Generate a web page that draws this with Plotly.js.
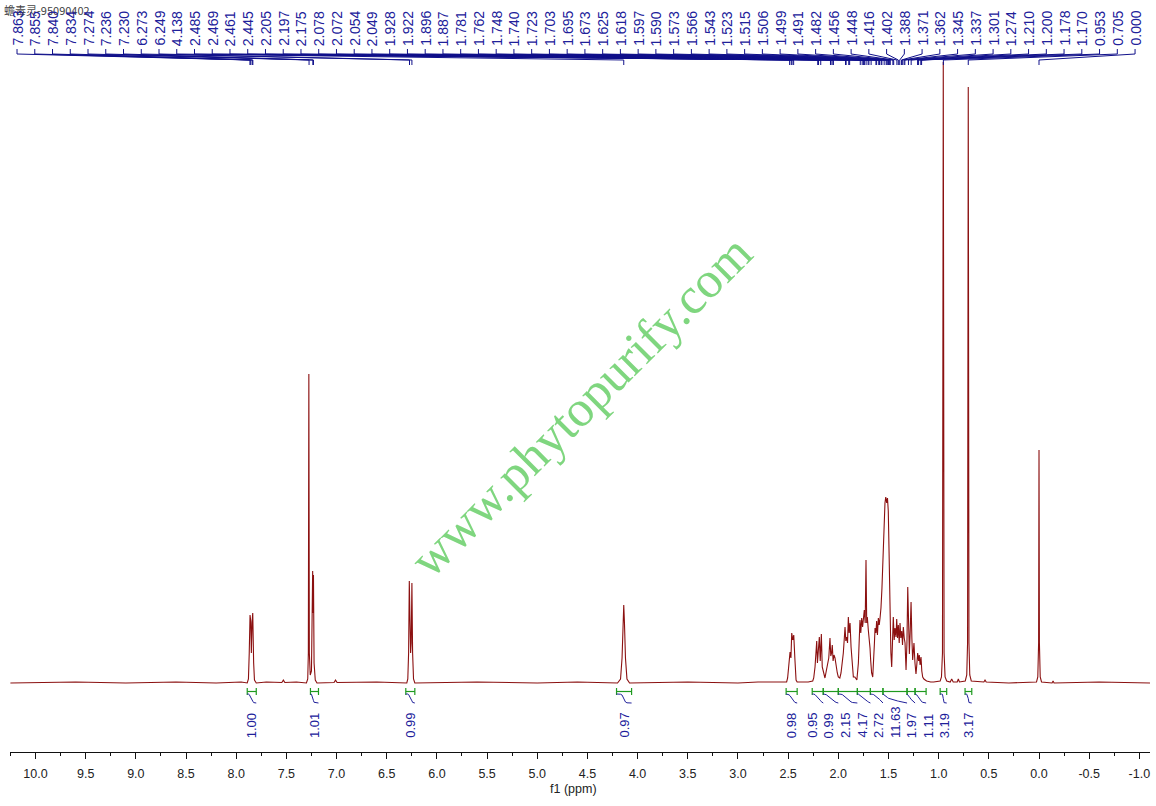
<!DOCTYPE html>
<html>
<head>
<meta charset="utf-8">
<script src="https://cdn.plot.ly/plotly-3.0.1.min.js"></script>
<style>html,body{margin:0;padding:0;background:#fff;}#chart{width:1156px;height:806px;}</style>
</head>
<body>
<div id="chart"></div>
<script>
// ---- data ----
const sampleTitle = '蟾毒灵-95090402';
const watermark = 'www.phytopurify.com';

// spectrum outline: chemical shift (ppm) and intensity (a.u.)
const specPpm = [10.25,9.60,9.10,8.60,8.20,7.95,
 7.890,7.878,7.870,7.862,7.855,7.849,7.842,7.835,7.826,7.818,7.800,
 7.70,7.545,7.530,7.515,7.40,
 7.300,7.287,7.281,7.276,7.271,7.262,7.250,7.243,7.238,7.234,7.230,7.224,7.212,7.195,
 7.025,7.010,6.995,6.60,
 6.300,6.290,6.282,6.275,6.268,6.262,6.256,6.249,6.242,6.233,6.220,
 5.60,5.00,4.60,
 4.200,4.170,4.155,4.145,4.138,4.131,4.121,4.106,4.080,
 3.50,3.00,2.80,
 2.515,2.505,2.491,2.481,2.472,2.464,2.454,2.444,2.432,2.421,2.410,2.300,
 2.255,2.245,2.232,2.222,2.215,2.208,2.200,2.189,2.180,2.169,2.160,2.149,2.140,
 2.133,2.120,2.105,2.095,2.083,2.075,2.067,2.060,2.052,2.043,2.033,2.022,2.010,2.000,1.990,
 1.985,1.973,1.960,1.950,1.940,1.933,1.925,1.916,1.908,1.900,1.892,1.883,1.873,1.860,1.850,1.835,1.822,1.815,
 1.800,1.790,1.784,1.776,1.767,1.758,1.748,1.741,1.732,1.724,1.717,1.711,1.701,1.692,1.684,1.677,1.668,
 1.657,1.648,1.640,1.634,1.625,1.618,1.610,1.601,1.592,
 1.584,1.575,1.565,1.555,1.545,1.535,1.527,1.518,1.510,1.502,1.494,1.485,1.476,1.468,
 1.460,1.452,1.443,1.435,1.425,1.418,1.410,1.402,1.393,1.385,1.377,1.368,1.360,1.352,1.343,1.335,1.325,
 1.316,1.308,1.300,1.292,1.284,1.275,1.267,1.259,1.252,1.246,1.236,
 1.226,1.218,1.209,1.200,1.193,1.185,1.176,1.168,1.159,1.147,1.136,1.120,1.080,
 1.050,0.985,0.972,0.962,0.954,0.946,0.936,0.920,0.885,0.870,0.855,0.815,0.804,0.793,0.760,
 0.735,0.720,0.712,0.705,0.698,0.690,0.675,0.550,0.538,0.526,0.300,
 0.025,0.012,0.004,0.000,-0.004,-0.012,-0.025,-0.130,-0.140,-0.150,-0.600,-1.106];
const specInt = [0,1,0,1,0,1,
 0,4,30,68,62,30,60,70,20,3,0,
 1,0.5,3,0.5,1,
 0,4,30,309,30,8,12,60,112,70,108,20,3,0,
 0.5,3,0.5,1,
 0,4,30,102,40,30,40,100,30,4,0,
 1,0,1,
 0,4,25,60,78,60,25,4,0,
 1,0,1,
 1,5,23,31,25,50,43,48,23,3,1,1,
 2,5,16,30,42,20,30,46,22,49,16,10,6,
 5,12,18,25,45,27,30,38,22,28,25,16,10,6,5,
 5,10,20,30,45,56,42,46,40,66,50,60,36,13,6,6,4,3,
 20,50,63,50,65,56,70,73,60,123,60,66,53,46,35,22,10,
 6,20,40,55,50,62,48,65,58,
 65,75,95,120,160,180,186,180,185,172,130,70,30,16,
 40,66,43,55,46,64,45,58,40,60,45,52,38,56,45,40,13,
 40,96,55,29,50,81,45,23,32,40,20,
 9,18,30,22,28,18,26,12,6,4,3,2,1,
 1,2,6,30,621,30,6,2,1,4,1,1,4,1,2,
 2,8,40,596,40,8,2,1,3,1,0,
 1,6,40,233,40,6,1,0,2,0,1,0];

// picked peak labels (ppm)
const peakLabels = [7.863,7.855,7.840,7.834,7.274,7.236,7.230,6.273,6.249,4.138,
 2.485,2.469,2.461,2.445,2.205,2.197,2.175,2.078,2.072,2.054,2.049,
 1.928,1.922,1.896,1.887,1.781,1.762,1.748,1.740,1.723,1.703,1.695,1.673,
 1.625,1.618,1.597,1.590,1.573,1.566,1.543,1.523,1.515,1.506,1.499,1.491,1.482,
 1.456,1.448,1.416,1.402,1.388,1.371,1.362,1.345,1.337,1.301,1.274,
 1.210,1.200,1.178,1.170,0.953,0.705,0.000];

// integration regions (ppm from, ppm to) and values
const intFrom = [7.89,7.26,6.31,4.21,2.52,2.26,2.15,2.00,1.81,1.68,1.555,1.315,1.235,0.985,0.737];
const intTo   = [7.80,7.18,6.22,4.06,2.41,2.15,2.00,1.81,1.68,1.555,1.315,1.235,1.125,0.920,0.670];
const intVals = ['1.00','1.01','0.99','0.97','0.98','0.95','0.99','2.15','4.17','2.72','11.63','1.97','1.11','3.19','3.17'];

// axis ticks
const xTicks = [10.0,9.5,9.0,8.5,8.0,7.5,7.0,6.5,6.0,5.5,5.0,4.5,4.0,3.5,3.0,2.5,2.0,1.5,1.0,0.5,0.0,-0.5,-1.0];

// ---- layout constants ----
const X_RANGE = [10.254, -1.106];
const Y_RANGE = [-69, 683];
const LABEL_LEFT = 10.184, LABEL_RIGHT = -0.957;
const NAVY = '#20209a';
const GREEN = '#1f9a1f';
const SPEC = '#8b1010';
const MIN_GAP = 0.165; // ppm between integral labels

const traces = [];

// spectrum
traces.push({x: specPpm, y: specInt, type: 'scatter', mode: 'lines',
  line: {color: SPEC, width: 1.1}, hoverinfo: 'skip', showlegend: false});

// peak label connectors
const cx = [], cy = [];
const n = peakLabels.length;
peakLabels.forEach((p, i) => {
  const xl = LABEL_LEFT + (LABEL_RIGHT - LABEL_LEFT) * i / (n - 1);
  cx.push(xl, xl, p, p, null);
  cy.push(634, 629, 623, 618, null);
});
traces.push({x: cx, y: cy, type: 'scatter', mode: 'lines',
  line: {color: '#10108a', width: 1}, hoverinfo: 'skip', showlegend: false});

// integration brackets
const bx = [], by = [];
intFrom.forEach((a, k) => {
  const b = intTo[k];
  bx.push(a, a, null, a, b, null, b, b, null);
  by.push(-5, -12, null, -8.5, -8.5, null, -5, -12, null);
});
traces.push({x: bx, y: by, type: 'scatter', mode: 'lines',
  line: {color: GREEN, width: 1.2}, hoverinfo: 'skip', showlegend: false});

// integral curves (cumulative from the spectrum)
const ix = [], iy = [];
intFrom.forEach((a, k) => {
  const b = intTo[k];
  const pts = [];
  pts.push([b, 0]);
  for (let j = specPpm.length - 1; j >= 0; j--) {
    if (specPpm[j] < a && specPpm[j] > b) pts.push([specPpm[j], specInt[j]]);
  }
  pts.push([a, 0]);
  const cum = [0];
  for (let j = 1; j < pts.length; j++) {
    cum.push(cum[j-1] + (pts[j][0] - pts[j-1][0]) * (pts[j][1] + pts[j-1][1]) / 2);
  }
  const tot = cum[cum.length - 1] || 1;
  pts.forEach((pt, j) => { ix.push(pt[0]); iy.push(-20 + 9 * cum[j] / tot); });
  ix.push(null); iy.push(null);
});
traces.push({x: ix, y: iy, type: 'scatter', mode: 'lines',
  line: {color: NAVY, width: 1}, hoverinfo: 'skip', showlegend: false});

// integral label positions: centred under region, then spread apart to avoid overlap
const labPos = intFrom.map((a, k) => (a + intTo[k]) / 2);
for (let it = 0; it < 200; it++) {
  for (let k = 0; k < labPos.length - 1; k++) {
    const gap = labPos[k] - labPos[k+1];
    if (gap < MIN_GAP) {
      const d = (MIN_GAP - gap) / 2;
      labPos[k] += d; labPos[k+1] -= d;
    }
  }
}

const annotations = [];
// sample title
annotations.push({xref: 'paper', yref: 'paper', x: -0.007, y: 1 - 10/752, xanchor: 'left', yanchor: 'middle',
  text: sampleTitle, showarrow: false, font: {family: 'Noto Sans CJK SC, Liberation Sans', size: 11, color: '#444'}});
// peak labels
peakLabels.forEach((p, i) => {
  const xl = LABEL_LEFT + (LABEL_RIGHT - LABEL_LEFT) * i / (n - 1);
  annotations.push({x: xl, y: 635, xref: 'x', yref: 'y', xanchor: 'center', yanchor: 'bottom',
    text: p.toFixed(3), textangle: -90, showarrow: false,
    font: {family: 'Liberation Sans, Arial', size: 14, color: NAVY}});
});
// integral values
intVals.forEach((v, k) => {
  annotations.push({x: labPos[k], y: -57, xref: 'x', yref: 'y',
    xanchor: 'center', yanchor: 'bottom', text: v, textangle: -90, showarrow: false,
    font: {family: 'Liberation Sans, Arial', size: 13, color: NAVY}});
});
// watermark
annotations.push({xref: 'paper', yref: 'paper', x: (581 - 10) / 1140, y: 1 - 406/752,
  xanchor: 'center', yanchor: 'middle', text: watermark, textangle: -45, showarrow: false,
  font: {family: 'Liberation Serif, Times New Roman, serif', size: 51, color: '#7fd67f'}});
// axis title
annotations.push({xref: 'paper', yref: 'paper', x: (573 - 10) / 1140, y: (752 - 789) / 752,
  xanchor: 'center', yanchor: 'middle', text: 'f1 (ppm)', showarrow: false,
  font: {family: 'Liberation Sans, Arial', size: 12.5, color: '#222'}});

const layout = {
  width: 1156, height: 806,
  margin: {l: 10, r: 6, t: 0, b: 54, pad: 0},
  paper_bgcolor: '#fff', plot_bgcolor: '#fff',
  showlegend: false,
  xaxis: {range: X_RANGE, showgrid: false, zeroline: false, showline: true, linecolor: '#111', linewidth: 1,
    ticks: 'outside', ticklen: 6, tickcolor: '#111', tickwidth: 1,
    tickmode: 'array', tickvals: xTicks, ticktext: xTicks.map(v => v.toFixed(1)),
    ticklabelstandoff: 4,
    tickfont: {family: 'Liberation Sans, Arial', size: 12.5, color: '#222'},
    minor: {tickmode: 'linear', tick0: 0.25, dtick: 0.5, ticks: 'outside', ticklen: 3, tickcolor: '#111', showgrid: false}},
  yaxis: {range: Y_RANGE, visible: false, showgrid: false, zeroline: false, fixedrange: true},
  annotations: annotations
};

Plotly.newPlot('chart', traces, layout, {staticPlot: true, displayModeBar: false});
</script>
</body>
</html>
